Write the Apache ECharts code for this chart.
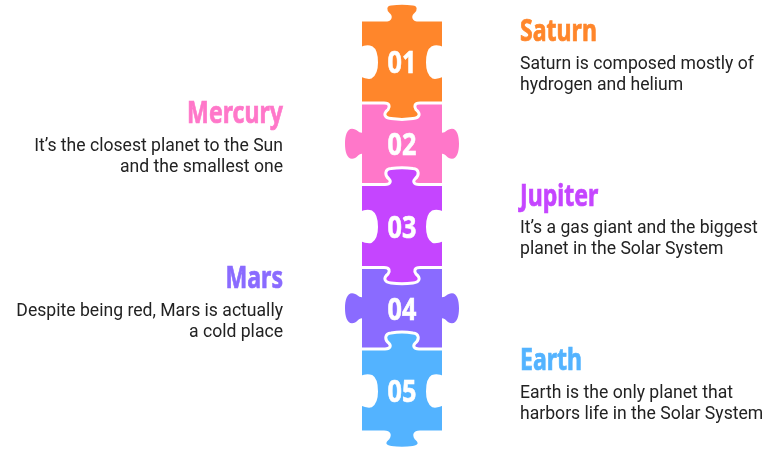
<!DOCTYPE html>
<html>
<head>
<meta charset="utf-8">
<title>Puzzle</title>
<style>
  html, body { margin: 0; padding: 0; background: #fff; }
  #chart { width: 783px; height: 449px; }
</style>
<script src="https://cdn.jsdelivr.net/npm/echarts@6/dist/echarts.min.js"></script>
</head>
<body>
<div id="chart"></div>
<script>
  // chart data
  var numbers = ['01', '02', '03', '04', '05'];
  var names = ['Saturn', 'Mercury', 'Jupiter', 'Mars', 'Earth'];
  var texts = [
    'Saturn is composed mostly of\nhydrogen and helium',
    'It\u2019s the closest planet to the Sun\nand the smallest one',
    'It\u2019s a gas giant and the biggest\nplanet in the Solar System',
    'Despite being red, Mars is actually\na cold place',
    'Earth is the only planet that\nharbors life in the Solar System'
  ];
  var colors = ['#FF862B', '#FF77C9', '#C545FF', '#8A6BFF', '#53B3FF'];

  // odd pieces: knobs on top and bottom, holes on the sides
  var oddPiece = 'M-41.5,-41.5 L-17,-41.5 C-11,-41.5 -11,-45 -13,-47 C-18,-51 -17,-57 -11,-57.5 C-4,-58.5 4,-58.5 11,-57.5 C17,-57 18,-51 13,-47 C11,-45 11,-41.5 17,-41.5 L41.5,-41.5 ' +
    'L41.5,-13 C37,-15 33,-15 30.5,-14 C27,-12 25.5,-5 25.5,1 C25.5,7 27,13 31,15.5 C34,16.5 38,15 41.5,13.5 L41.5,41.5 ' +
    'L18,41.5 C12,41.5 12,45 14,48 C19,52 18,56 11,57 C4,58 -4,58 -11,57 C-18,56 -19,52 -14,48 C-12,45 -12,41.5 -18,41.5 L-41.5,41.5 ' +
    'L-41.5,13.5 C-38,15 -34,16.5 -31,15.5 C-27,13 -25.5,7 -25.5,1 C-25.5,-5 -27,-12 -30.5,-14 C-33,-15 -37,-15 -41.5,-13 Z';
  // even pieces: knobs on the sides, the odd pieces cut the top and bottom
  var evenPiece = 'M-40,-42 L40,-42 L40,-11 C44,-11 45,-15 50,-15 C55,-15 57,-8 57,0 C57,8 55,15 50,15 C45,15 44,10 40,10 L40,42 ' +
    'L-40,42 L-40,10 C-44,10 -45,15 -50,15 C-55,15 -57,8 -57,0 C-57,-8 -55,-15 -50,-15 C-45,-15 -44,-11 -40,-11 Z';

  var mychart = echarts.init(document.getElementById('chart'));

  function renderPiece(params, api) {
    var i = params.dataIndex;
    var pos = api.coord([0, i]);
    var odd = i % 2 === 0;
    return {
      type: 'group',
      x: pos[0],
      y: pos[1],
      children: [
        {
          type: 'path',
          z2: odd ? 2 : 1,
          shape: { pathData: odd ? oddPiece : evenPiece },
          style: odd ? { fill: colors[i], stroke: '#fff', lineWidth: 3 } : { fill: colors[i] }
        },
        {
          type: 'text',
          z2: 3,
          x: 0,
          y: 3,
          scaleX: 0.84,
          style: {
            text: numbers[i],
            fill: '#fff',
            stroke: '#fff',
            lineWidth: 0.6,
            font: 'bold 30px "Noto Sans"',
            align: 'center',
            verticalAlign: 'middle'
          }
        },
        {
          type: 'text',
          z2: 3,
          x: odd ? 118 : -119,
          y: -29,
          scaleX: 0.77,
          style: {
            text: names[i],
            fill: colors[i],
            stroke: colors[i],
            lineWidth: 0.7,
            font: 'bold 30px "Noto Sans"',
            align: odd ? 'left' : 'right',
            verticalAlign: 'middle'
          }
        },
        {
          type: 'text',
          z2: 3,
          x: odd ? 118 : -119,
          y: 13.5,
          style: {
            text: texts[i],
            fill: '#222',
            font: '17.6px Roboto',
            lineHeight: 21,
            align: odd ? 'left' : 'right',
            verticalAlign: 'middle'
          }
        }
      ]
    };
  }

  mychart.setOption({
    animation: false,
    grid: { left: 362, width: 80, top: 20.5, height: 411 },
    xAxis: { type: 'value', min: -1, max: 1, show: false },
    yAxis: { type: 'category', data: numbers, inverse: true, show: false },
    series: [
      {
        type: 'custom',
        renderItem: renderPiece,
        clip: false,
        encode: { x: 0, y: 1 },
        data: numbers.map(function (n, i) { return [0, i]; })
      }
    ]
  });
</script>
</body>
</html>
